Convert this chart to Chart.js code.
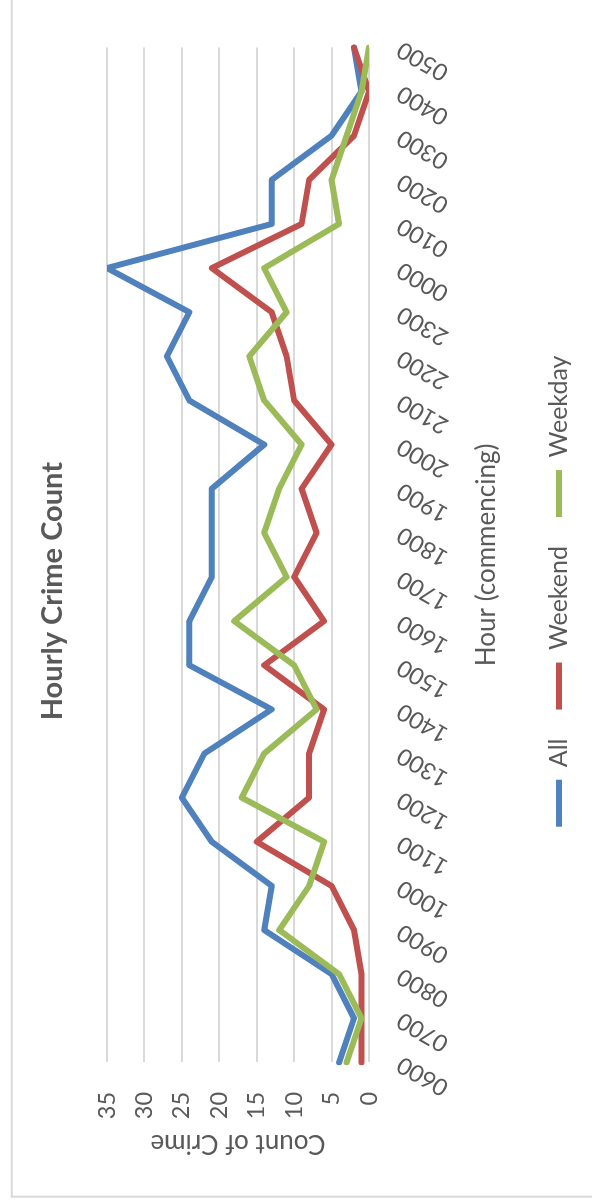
<!DOCTYPE html>
<html>
<head>
<meta charset="utf-8">
<title>Hourly Crime Count</title>
<script src="https://cdn.jsdelivr.net/npm/chart.js@4.4.1/dist/chart.umd.min.js"></script>
<style>
  html, body { margin: 0; padding: 0; width: 592px; height: 1203px; overflow: hidden; background: #ffffff; }
  /* the landscape chart is turned a quarter turn anticlockwise to fill the portrait page */
  #frame { position: absolute; left: 0; top: 1203px; width: 1203px; height: 592px;
           transform-origin: 0 0; transform: rotate(-90deg); }
  canvas { display: block; }
</style>
</head>
<body>
<div id="frame"><canvas id="chart" width="1203" height="592"></canvas></div>
<script>
// hour of day (commencing)
const hours = ['0600', '0700', '0800', '0900', '1000', '1100', '1200', '1300',
               '1400', '1500', '1600', '1700', '1800', '1900', '2000', '2100',
               '2200', '2300', '0000', '0100', '0200', '0300', '0400', '0500'];

// crimes recorded in each hour
const allCrimes     = [4, 2, 5, 14, 13, 21, 25, 22, 13, 24, 24, 21, 21, 21, 14, 24, 27, 24, 35, 13, 13, 5, 1, 2];
const weekendCrimes = [1, 1, 1, 2, 5, 15, 8, 8, 6, 14, 6, 10, 7, 9, 5, 10, 11, 13, 21, 9, 8, 2, 0, 2];
const weekdayCrimes = [3, 1, 4, 12, 8, 6, 17, 14, 7, 10, 18, 11, 14, 12, 9, 14, 16, 11, 14, 4, 5, 3, 1, 0];

// value axis ticks
const countTicks = [0, 5, 10, 15, 20, 25, 30, 35];

const textColor = '#595959';
const gridColor = '#d9d9d9';
const fontFamily = 'Lato, "Open Sans", sans-serif';

// white background and the light frame round the chart area
const chartFrame = {
  id: 'chartFrame',
  beforeDraw(chart) {
    const { ctx, width, height } = chart;
    ctx.save();
    ctx.fillStyle = '#ffffff';
    ctx.fillRect(0, 0, width, height);
    ctx.strokeStyle = gridColor;
    ctx.lineWidth = 2;
    ctx.beginPath();
    ctx.moveTo(6.3, height);
    ctx.lineTo(6.3, 11.8);
    ctx.lineTo(width, 11.8);
    ctx.stroke();
    ctx.restore();
  }
};

function series(label, data, color, order) {
  return {
    label: label,
    data: data,
    borderColor: color,
    backgroundColor: color,
    borderWidth: 6,
    borderCapStyle: 'round',
    borderJoinStyle: 'round',
    pointRadius: 0,
    pointHoverRadius: 0,
    tension: 0,
    fill: false,
    order: order
  };
}

new Chart(document.getElementById('chart'), {
  type: 'line',
  data: {
    labels: hours,
    datasets: [
      series('All', allCrimes, '#4f81bd', 3),
      series('Weekend', weekendCrimes, '#c0504d', 2),
      series('Weekday', weekdayCrimes, '#9bbb59', 1)
    ]
  },
  options: {
    responsive: false,
    animation: false,
    events: [],
    layout: { padding: { left: 60, right: 39.3, top: 0, bottom: 10.5 } },
    plugins: {
      tooltip: { enabled: false },
      title: {
        display: true,
        text: 'Hourly Crime Count',
        color: textColor,
        font: { family: fontFamily, size: 29, weight: 'bold' },
        padding: { top: 35.6, bottom: 36.6 }
      },
      legend: {
        position: 'bottom',
        labels: {
          usePointStyle: true,
          pointStyle: 'line',
          pointStyleWidth: 47,
          padding: 29,
          color: textColor,
          font: { family: fontFamily, size: 25 },
          sort: (a, b) => a.datasetIndex - b.datasetIndex
        }
      }
    },
    scales: {
      x: {
        type: 'category',
        offset: false,
        grid: { display: false, drawTicks: false },
        border: { display: false },
        ticks: {
          autoSkip: false,
          maxRotation: 60,
          minRotation: 60,
          padding: 23,
          color: textColor,
          font: { family: fontFamily, size: 23.5 }
        },
        title: {
          display: true,
          text: 'Hour (commencing)',
          color: textColor,
          font: { family: fontFamily, size: 26 },
          padding: { top: 0, bottom: 15.4 }
        },
        afterFit: (scale) => { scale.height = 148.5; }
      },
      y: {
        min: countTicks[0],
        max: countTicks[countTicks.length - 1],
        afterBuildTicks: (scale) => { scale.ticks = countTicks.map(v => ({ value: v })); },
        grid: { color: gridColor, lineWidth: 2, drawTicks: false },
        border: { display: false },
        ticks: {
          padding: 29.5,
          color: textColor,
          font: { family: fontFamily, size: 23.5 }
        },
        title: {
          display: true,
          text: 'Count of Crime',
          color: textColor,
          font: { family: fontFamily, size: 26 },
          padding: { top: -15.6, bottom: 0 }
        },
        afterFit: (scale) => { scale.width = 80.6; }
      }
    }
  },
  plugins: [chartFrame]
});
</script>
</body>
</html>
